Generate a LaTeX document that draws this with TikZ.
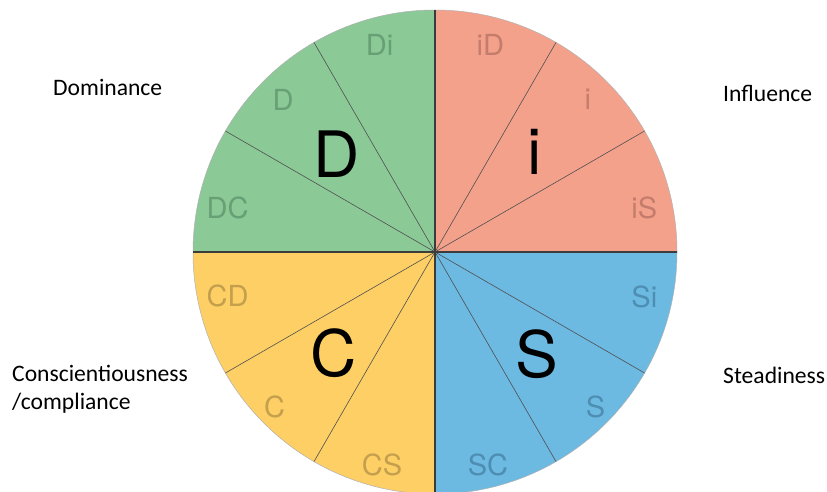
\documentclass[tikz,border=0pt]{standalone}
\usepackage{fontspec}
\setmainfont{Carlito}
\setsansfont{TeX Gyre Heros}
\usetikzlibrary{positioning, calc}
\definecolor{cDom}{RGB}{139, 201, 151}
\definecolor{tDom}{RGB}{104, 160, 117}
\definecolor{cInf}{RGB}{244, 161, 139}
\definecolor{tInf}{RGB}{196, 125, 108}
\definecolor{cSte}{RGB}{108, 185, 226}
\definecolor{tSte}{RGB}{78, 142, 178}
\definecolor{cCon}{RGB}{253, 207, 100}
\definecolor{tCon}{RGB}{196, 160, 78}
\definecolor{lDark}{RGB}{60, 60, 60}

\begin{document}
\begin{tikzpicture}[
    x=1pt, y=1pt,
    divider/.style={draw=lDark!90, line width=0.6pt},
    axis/.style={draw=lDark, line width=1.3pt},
    sub/.style={text=#1, font=\sffamily\fontsize{29}{29}\selectfont, inner sep=0pt},
    big/.style={text=black, font=\sffamily\fontsize{64}{64}\selectfont, inner sep=0pt},
    trait/.style={text=black, font=\fontsize{23.6}{28}\selectfont, align=left, inner sep=0pt, anchor=west}
]
\useasboundingbox (0,0) rectangle (827,491);
\coordinate (ctr) at (435,239);

% Quadrants
\fill[cDom] (ctr) -- ++(180:242) arc[start angle=180, end angle=90, radius=242] -- cycle;
\fill[cInf] (ctr) -- ++(90:242) arc[start angle=90, end angle=0, radius=242] -- cycle;
\fill[cSte] (ctr) -- ++(0:242) arc[start angle=0, end angle=-90, radius=242] -- cycle;
\fill[cCon] (ctr) -- ++(-90:242) arc[start angle=-90, end angle=-180, radius=242] -- cycle;
\draw[draw=lDark!40, line width=0.5pt] (ctr) circle[radius=242];

% Sub-style dividers
\draw[divider] (ctr) -- ++(30:242);
\draw[divider] (ctr) -- ++(60:242);
\draw[divider] (ctr) -- ++(120:242);
\draw[divider] (ctr) -- ++(150:242);
\draw[divider] (ctr) -- ++(210:242);
\draw[divider] (ctr) -- ++(240:242);
\draw[divider] (ctr) -- ++(300:242);
\draw[divider] (ctr) -- ++(330:242);

% Main axes
\draw[axis] (ctr) -- ++(180:242);
\draw[axis] (ctr) -- ++(0:242);
\draw[axis] (ctr) -- ++(90:242);
\draw[axis] (ctr) -- ++(-90:242);

% Big letters
\node[big] (bigD) at ($(ctr)+(135:139)$) {D};
\node[big] (bigI) at ($(ctr)+(45:141)$) {i};
\node[big] (bigS) at ($(ctr)+(-45:144)$) {S};
\node[big] (bigC) at ($(ctr)+(-135:143)$) {C};

% Sub-style labels
\node[sub=tDom] (subDi) at ($(ctr)+(105:214)$) {Di};
\node[sub=tDom] (subD) at ($(ctr)+(135:215)$) {D};
\node[sub=tDom] (subDC) at ($(ctr)+(168:212)$) {DC};
\node[sub=tInf] (subiD) at ($(ctr)+(75:214)$) {iD};
\node[sub=tInf] (subi) at ($(ctr)+(45:216)$) {i};
\node[sub=tInf] (subiS) at ($(ctr)+(12:214)$) {iS};
\node[sub=tSte] (subSi) at ($(ctr)+(-12:214)$) {Si};
\node[sub=tSte] (subS) at ($(ctr)+(-44:223)$) {S};
\node[sub=tSte] (subSC) at ($(ctr)+(-76:219)$) {SC};
\node[sub=tCon] (subCD) at ($(ctr)+(-168:212)$) {CD};
\node[sub=tCon] (subC) at ($(ctr)+(-136:223)$) {C};
\node[sub=tCon] (subCS) at ($(ctr)+(-104:219)$) {CS};

% Trait names
\node[trait] (dom) at (53,404) {Dominance};
\node[trait] (inf) at (723,398) {Influence};
\node[trait] (ste) at (723,116) {Steadiness};
\node[trait] (con) at (12,102) {Conscientiousness\\/compliance};

\end{tikzpicture}
\end{document}
